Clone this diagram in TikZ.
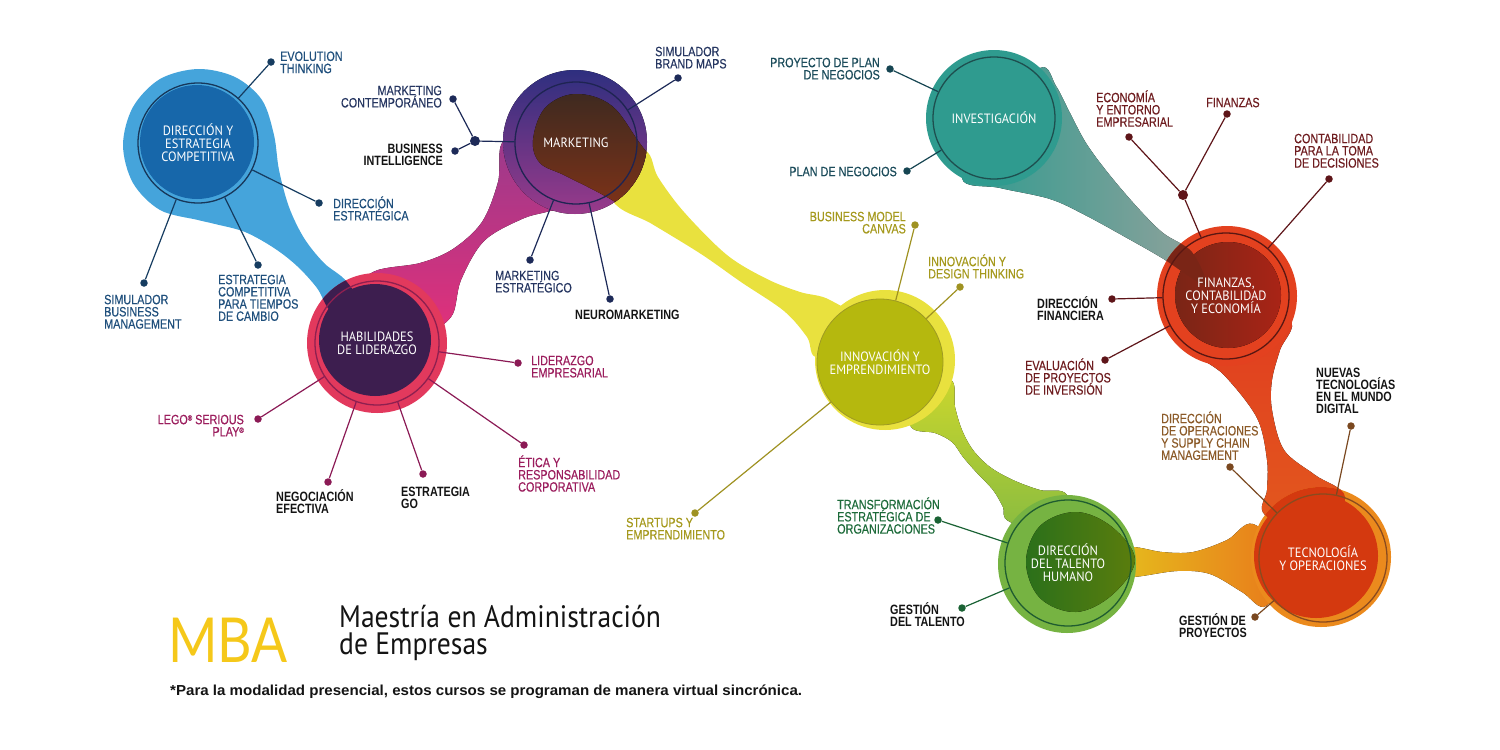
\documentclass[tikz,border=0pt]{standalone}
\usepackage{fontspec}
\setmainfont{Liberation Sans}
\newfontfamily\lblfont[FakeStretch=0.8, UprightFeatures={FakeBold=0.45}]{Liberation Sans}
\newfontfamily\ttlfont[FakeStretch=0.92]{PT Sans}
\newfontfamily\subfont[FakeStretch=0.89]{PT Sans}
\newfontfamily\mbafont[FakeStretch=0.86]{Lato}
\newfontfamily\notefont[FakeStretch=1.04]{Liberation Sans}
\usetikzlibrary{positioning}
\pgfdeclarelayer{bloblayer}
\pgfdeclarelayer{edgelayer}
\pgfdeclarelayer{nodelayer}
\pgfsetlayers{bloblayer,edgelayer,nodelayer,main}
\lineskiplimit=-20pt
% colours
\definecolor{blueOut}{HTML}{45A4DB}
\definecolor{blueIn}{HTML}{1767AA}
\definecolor{blueRing}{HTML}{17375A}
\definecolor{blueTxt}{HTML}{1F4F7C}
\definecolor{blueLn}{HTML}{163C60}
\definecolor{habOut}{HTML}{E2395D}
\definecolor{habIn}{HTML}{3D1E4F}
\definecolor{habRing}{HTML}{8E2050}
\definecolor{habTxt}{HTML}{9B1D5D}
\definecolor{habLn}{HTML}{8B1A55}
\definecolor{pinkA}{HTML}{E1307A}
\definecolor{pinkB}{HTML}{9A3A8C}
\definecolor{mktTop}{HTML}{2E2F7F}
\definecolor{mktBot}{HTML}{9A3A8A}
\definecolor{mktBrA}{HTML}{3F2A20}
\definecolor{mktBrB}{HTML}{8C3416}
\definecolor{mktRing}{HTML}{1E2452}
\definecolor{mktTxt}{HTML}{263661}
\definecolor{mktLn}{HTML}{1D2A58}
\definecolor{yel}{HTML}{E9E13E}
\definecolor{olive}{HTML}{B5B80E}
\definecolor{oliveRing}{HTML}{9E9A24}
\definecolor{innTxt}{HTML}{A5991D}
\definecolor{innLn}{HTML}{9F9222}
\definecolor{grnA}{HTML}{CAD62D}
\definecolor{grnB}{HTML}{84BA42}
\definecolor{talOut}{HTML}{76B342}
\definecolor{talInA}{HTML}{2B701A}
\definecolor{talInB}{HTML}{5B7D0D}
\definecolor{talRing}{HTML}{1F5C30}
\definecolor{talTxt}{HTML}{1D6B3A}
\definecolor{talLn}{HTML}{1A6234}
\definecolor{orgA}{HTML}{E5C51D}
\definecolor{orgB}{HTML}{E9761B}
\definecolor{tecOut}{HTML}{EB8A1D}
\definecolor{tecIn}{HTML}{D4390F}
\definecolor{tecRing}{HTML}{8A4B1F}
\definecolor{tecTxt}{HTML}{8B5A28}
\definecolor{tecLn}{HTML}{7A4820}
\definecolor{redA}{HTML}{E03B20}
\definecolor{redB}{HTML}{E35A1D}
\definecolor{finOut}{HTML}{E3411F}
\definecolor{finInA}{HTML}{7A2516}
\definecolor{finInB}{HTML}{A92416}
\definecolor{finRing}{HTML}{5A1712}
\definecolor{finTxt}{HTML}{6E1C1F}
\definecolor{finLn}{HTML}{5E1519}
\definecolor{invTeal}{HTML}{2F9B8F}
\definecolor{invGrey}{HTML}{93A29C}
\definecolor{invRing}{HTML}{1E4F4F}
\definecolor{invTxt}{HTML}{1C4C5B}
\definecolor{invLn}{HTML}{164552}
\definecolor{mbaYel}{HTML}{F5C81A}
\definecolor{ink}{HTML}{141414}
% styles
\tikzset{dot/.style={circle, inner sep=0pt, minimum size=7.5pt}}
\tikzset{hub/.style={circle, inner sep=0pt, minimum size=10pt}}
\tikzset{ring/.style={circle, draw, line width=1.3pt, inner sep=0pt, minimum size=#1,
  text=white, align=center, font=\ttlfont\fontsize{13.5}{12.8}\selectfont}}
\tikzset{lbl/.style={inner sep=0pt, font=\lblfont\fontsize{13.5}{12.2}\selectfont}}
\tikzset{lblw/.style={lbl, anchor=north west, align=left}}
\tikzset{lble/.style={lbl, anchor=north east, align=right}}
\tikzset{blk/.style={font=\lblfont\bfseries\fontsize{13.5}{12.2}\selectfont, text=ink}}
\tikzset{spoke/.style={line width=1.2pt}}
\newcommand{\sx}{\rule{0pt}{13pt}}
\newcommand{\regm}{\raisebox{3.6pt}{\fontsize{7.5}{7.5}\selectfont ®}}
% blob outlines
\newcommand{\tealband}{plot[smooth cycle, tension=.55] coordinates {(994,118) (1040,68) (1056,86) (1070,113) (1086,143) (1108,173) (1137,207) (1163,233) (1192,252) (1205,285) (1162,258) (1127,238) (1085,215) (1050,199) (1000,188) (962,178)}}
\newcommand{\bluedrop}{plot[smooth cycle, tension=.55] coordinates {(198,69) (235,77) (262,100) (274,135) (279,170) (289,207) (304,238) (324,263) (347,282) (368,318) (333,313) (317,288) (297,266) (274,248) (245,232) (215,224) (198,220) (160,210) (133,183) (123,145) (133,107) (160,79)}}
\newcommand{\pinkband}{plot[smooth cycle, tension=.55] coordinates {(352,300) (373,272) (420,263) (453,249) (482,222) (498,182) (505,140) (560,150) (585,200) (550,211) (522,219) (484,241) (461,280) (451,317) (420,330)}}
\newcommand{\yellowband}{plot[smooth cycle, tension=.55] coordinates {(600,140) (645,150) (658,177) (684,212) (727,255) (767,279) (800,292) (830,300) (870,330) (818,357) (807,337) (784,311) (741,282) (701,254) (652,224) (612,200)}}
\newcommand{\mktbrown}{plot[smooth cycle, tension=.6] coordinates {(533,140) (545,108) (575,94) (612,106) (645,150) (700,215) (660,232) (612,200) (566,176) (540,163)}}
\newcommand{\greenband}{plot[smooth cycle, tension=.55] coordinates {(905,400) (950,380) (955,407) (962,430) (973,450) (990,467) (1013,480) (1040,490) (1067,495) (1070,540) (1010,522) (1003,507) (993,490) (977,473) (963,457) (952,442) (935,433) (912,428)}}
\newcommand{\talgreen}{plot[smooth cycle, tension=.6] coordinates {(1026,562) (1040,526) (1076,512) (1112,527) (1135,560) (1112,595) (1076,612) (1040,598)}}
\newcommand{\orangeband}{plot[smooth cycle, tension=.55] coordinates {(1100,552) (1132,547) (1162,552) (1193,552) (1227,540) (1253,524) (1290,560) (1266,606) (1242,592) (1210,574) (1177,571) (1133,577) (1100,575)}}
\newcommand{\redband}{plot[smooth cycle, tension=.55] coordinates {(1230,300) (1290,320) (1280,350) (1272,380) (1272,410) (1284,450) (1315,475) (1345,497) (1320,540) (1265,515) (1267,490) (1267,460) (1257,418) (1224,375) (1186,342)}}

\begin{document}
\begin{tikzpicture}[x=1pt,y=-1pt]
    \useasboundingbox (0,0) rectangle (1500,750);
    \begin{pgfonlayer}{bloblayer}
        % investigacion -> finanzas
        \fill[left color=invTeal, middle color=invTeal, right color=invGrey] \tealband;
        \fill[invTeal] (994,118) circle[radius=68pt];
        % direccion y estrategia
        \fill[blueOut] \bluedrop;
        \fill[blueIn] (197,142) circle[radius=57pt];
        % habilidades -> marketing -> innovacion
        \fill[top color=pinkB, bottom color=pinkA] \pinkband;
        \fill[yel] \yellowband;
        \fill[top color=mktTop, bottom color=mktBot] (575,142) circle[radius=72pt];
        \begin{scope}
            \clip (575,142) circle[radius=72pt];
            \fill[top color=mktBrA, bottom color=mktBrB] \mktbrown;
        \end{scope}
        \fill[habOut] (377,343) circle[radius=70pt];
        \fill[habIn] (375,340) circle[radius=56pt];
        \begin{scope}
            \clip (377,343) circle[radius=70pt];
            \fill[habIn] \bluedrop;
        \end{scope}
        % innovacion -> talento
        \fill[top color=grnA, bottom color=grnB] \greenband;
        \fill[yel] (885,360) circle[radius=70pt];
        % talento -> tecnologia, finanzas -> tecnologia
        \fill[left color=orgA, right color=orgB] \orangeband;
        \fill[top color=redA, bottom color=redB] \redband;
        \fill[finOut] (1227,296) circle[radius=70pt];
        \fill[left color=finInA, right color=finInB] (1228,295) circle[radius=53pt];
        \begin{scope}
            \clip (1227,296) circle[radius=70pt];
            \fill[finInA] \tealband;
        \end{scope}
        \fill[talOut] (1067,564) circle[radius=69pt];
        \fill[left color=talInA, right color=talInB] \talgreen;
        \fill[tecOut] (1321,557) circle[radius=70pt];
        \fill[tecIn] (1316,556) circle[radius=62pt];
        \begin{scope}
            \clip (1321,557) circle[radius=70pt];
            \fill[tecIn] \redband;
        \end{scope}
    \end{pgfonlayer}
    \begin{pgfonlayer}{nodelayer}
        % rings
        \node[ring=120pt, draw=blueRing] (dirc) at (198,143) {DIRECCIÓN Y\\ESTRATEGIA\\COMPETITIVA};
        \node[ring=124pt, draw=habRing] (hab) at (377,343) {HABILIDADES\\DE LIDERAZGO};
        \node[ring=122pt, draw=mktRing] (mkt) at (576,143) {MARKETING};
        \node[ring=122pt, draw=invRing] (inv) at (994,118) {INVESTIGACIÓN};
        \node[ring=126pt, draw=oliveRing, fill=olive, line width=0.8pt] (inn) at (880,362) {INNOVACIÓN Y\\EMPRENDIMIENTO};
        \node[ring=126pt, draw=finRing] (fin) at (1226,296) {FINANZAS,\\CONTABILIDAD\\Y ECONOMÍA};
        \node[ring=126pt, draw=talRing] (tal) at (1068,563) {DIRECCIÓN\\DEL TALENTO\\HUMANO};
        \node[ring=128pt, draw=tecRing] (tec) at (1323,558) {TECNOLOGÍA\\Y OPERACIONES};
        % direccion y estrategia competitiva
        \node[dot, fill=blueLn] (evo) at (271,62) {};
        \node[dot, fill=blueLn] (dire) at (319,203) {};
        \node[dot, fill=blueLn] (estc) at (258,265) {};
        \node[dot, fill=blueLn] (simb) at (144,283) {};
        \node[lblw, text=blueTxt] (evot) at (280,47.7) {\sx EVOLUTION\\THINKING};
        \node[lblw, text=blueTxt] (diret) at (333,195) {\sx DIRECCIÓN\\ESTRATÉGICA};
        \node[lblw, text=blueTxt] (estct) at (218,271) {\sx ESTRATEGIA\\COMPETITIVA\\PARA TIEMPOS\\DE CAMBIO};
        \node[lblw, text=blueTxt] (simbt) at (104,291) {\sx SIMULADOR\\BUSINESS\\MANAGEMENT};
        % marketing
        \node[dot, fill=mktLn] (mcd) at (453,99) {};
        \node[dot, fill=mktLn] (bid) at (455,151) {};
        \node[hub, fill=mktLn] (mhub) at (475,141) {};
        \node[dot, fill=mktLn] (sbd) at (678,78) {};
        \node[dot, fill=mktLn] (mesd) at (530,260) {};
        \node[dot, fill=mktLn] (neud) at (610,299) {};
        \node[lble, text=mktTxt] (mcdt) at (442,82) {\sx MARKETING\\CONTEMPORÁNEO};
        \node[lble, blk] (bidt) at (443,140) {\sx BUSINESS\\INTELLIGENCE};
        \node[lblw, text=mktTxt] (sbdt) at (655,43) {\sx SIMULADOR\\BRAND MAPS};
        \node[lblw, text=mktTxt] (mesdt) at (495,267) {\sx MARKETING\\ESTRATÉGICO};
        \node[lblw, blk] (neudt) at (575,306) {\sx NEUROMARKETING};
        % habilidades de liderazgo
        \node[dot, fill=habLn] (lidd) at (518,363) {};
        \node[dot, fill=habLn] (etid) at (524,445) {};
        \node[dot, fill=habLn] (egod) at (423,474) {};
        \node[dot, fill=habLn] (negd) at (328,482) {};
        \node[dot, fill=habLn] (legd) at (258,419) {};
        \node[lblw, text=habTxt] (liddt) at (531,352) {\sx LIDERAZGO\\EMPRESARIAL};
        \node[lblw, text=habTxt] (etidt) at (518,454) {\sx ÉTICA Y\\RESPONSABILIDAD\\CORPORATIVA};
        \node[lblw, blk] (egodt) at (401,483) {\sx ESTRATEGIA\\GO};
        \node[lblw, blk] (negdt) at (276,488) {\sx NEGOCIACIÓN\\EFECTIVA};
        \node[lble, text=habTxt] (legdt) at (244,411) {\sx LEGO\regm{} SERIOUS\\PLAY\regm};
        % innovacion y emprendimiento
        \node[dot, fill=innLn] (bmcd) at (915,225) {};
        \node[dot, fill=innLn] (idtd) at (960,287) {};
        \node[dot, fill=innLn] (stad) at (695,513) {};
        \node[lble, text=innTxt] (bmcdt) at (906,208) {\sx BUSINESS MODEL\\CANVAS};
        \node[lblw, text=innTxt] (idtdt) at (928,253) {\sx INNOVACIÓN Y\\DESIGN THINKING};
        \node[lblw, text=innTxt] (stadt) at (626,514) {\sx STARTUPS Y\\EMPRENDIMIENTO};
        % investigacion
        \node[dot, fill=invLn] (proyd) at (890,69) {};
        \node[dot, fill=invLn] (pland) at (907,171) {};
        \node[lble, text=invTxt] (proydt) at (880,54) {\sx PROYECTO DE PLAN\\DE NEGOCIOS};
        \node[lble, text=invTxt] (plandt) at (897,163) {\sx PLAN DE NEGOCIOS};
        % finanzas
        \node[dot, fill=finLn] (econd) at (1129,137) {};
        \node[dot, fill=finLn] (finzd) at (1227,114) {};
        \node[hub, fill=finLn] (fhub) at (1183,195) {};
        \node[dot, fill=finLn] (contd) at (1329,179) {};
        \node[dot, fill=finLn] (dfind) at (1112,299) {};
        \node[dot, fill=finLn] (evald) at (1105,360) {};
        \node[lblw, text=finTxt] (econdt) at (1096,89) {\sx ECONOMÍA\\Y ENTORNO\\EMPRESARIAL};
        \node[lblw, text=finTxt] (finzdt) at (1206,94) {\sx FINANZAS};
        \node[lblw, text=finTxt] (contdt) at (1294,130) {\sx CONTABILIDAD\\PARA LA TOMA\\DE DECISIONES};
        \node[lblw, blk] (dfindt) at (1037,295) {\sx DIRECCIÓN\\FINANCIERA};
        \node[lblw, text=finTxt] (evaldt) at (1025,357) {\sx EVALUACIÓN\\DE PROYECTOS\\DE INVERSIÓN};
        % talento humano
        \node[dot, fill=talLn] (trand) at (938,520) {};
        \node[dot, fill=talLn] (gtald) at (962,608) {};
        \node[lblw, text=talTxt] (trandt) at (837,496) {\sx TRANSFORMACIÓN\\ESTRATÉGICA DE\\ORGANIZACIONES};
        \node[lblw, blk] (gtaldt) at (890,601) {\sx GESTIÓN\\DEL TALENTO};
        % tecnologia y operaciones
        \node[dot, fill=tecLn] (dopd) at (1230,467) {};
        \node[dot, fill=tecLn] (nued) at (1351,426) {};
        \node[dot, fill=tecLn] (gprd) at (1255,617) {};
        \node[lblw, text=tecTxt] (dopdt) at (1161,410) {\sx DIRECCIÓN\\DE OPERACIONES\\Y SUPPLY CHAIN\\MANAGEMENT};
        \node[lblw, blk] (nuedt) at (1316,364) {\sx NUEVAS\\TECNOLOGÍAS\\EN EL MUNDO\\DIGITAL};
        \node[lblw, blk] (gprdt) at (1179,612) {\sx GESTIÓN DE\\PROYECTOS};
        % title block
        \node[anchor=base west, inner sep=0pt, text=mbaYel, font=\mbafont\fontsize{62}{62}\selectfont] (mba) at (168,662) {MBA};
        \node[anchor=north west, inner sep=0pt, align=left, text=ink, font=\subfont\fontsize{31}{27}\selectfont] (mtit) at (339,601) {\rule{0pt}{26pt}Maestría en Administración\\de Empresas};
        \node[anchor=base west, inner sep=0pt, text=ink, font=\notefont\bfseries\fontsize{14.5}{14.5}\selectfont] (note) at (170,695) {*Para la modalidad presencial, estos cursos se programan de manera virtual sincrónica.};
    \end{pgfonlayer}
    \begin{pgfonlayer}{edgelayer}
        \draw[spoke, blueLn] (evo) to (dirc);
        \draw[spoke, blueLn] (dire) to (dirc);
        \draw[spoke, blueLn] (estc) to (dirc);
        \draw[spoke, blueLn] (simb) to (dirc);
        \draw[spoke, mktLn] (mcd) to (mhub);
        \draw[spoke, mktLn] (bid) to (mhub);
        \draw[spoke, mktLn] (mhub) to (mkt);
        \draw[spoke, mktLn] (sbd) to (mkt);
        \draw[spoke, mktLn] (mesd) to (mkt);
        \draw[spoke, mktLn] (neud) to (mkt);
        \draw[spoke, habLn] (lidd) to (hab);
        \draw[spoke, habLn] (etid) to (hab);
        \draw[spoke, habLn] (egod) to (hab);
        \draw[spoke, habLn] (negd) to (hab);
        \draw[spoke, habLn] (legd) to (hab);
        \draw[spoke, innLn] (bmcd) to (inn);
        \draw[spoke, innLn] (idtd) to (inn);
        \draw[spoke, innLn] (stad) to (inn);
        \draw[spoke, invLn] (proyd) to (inv);
        \draw[spoke, invLn] (pland) to (inv);
        \draw[spoke, finLn] (econd) to (fhub);
        \draw[spoke, finLn] (finzd) to (fhub);
        \draw[spoke, finLn] (fhub) to (fin);
        \draw[spoke, finLn] (contd) to (fin);
        \draw[spoke, finLn] (dfind) to (fin);
        \draw[spoke, finLn] (evald) to (fin);
        \draw[spoke, talLn] (trand) to (tal);
        \draw[spoke, talLn] (gtald) to (tal);
        \draw[spoke, tecLn] (dopd) to (tec);
        \draw[spoke, tecLn] (nued) to (tec);
        \draw[spoke, tecLn] (gprd) to (tec);
    \end{pgfonlayer}
\end{tikzpicture}
\end{document}
